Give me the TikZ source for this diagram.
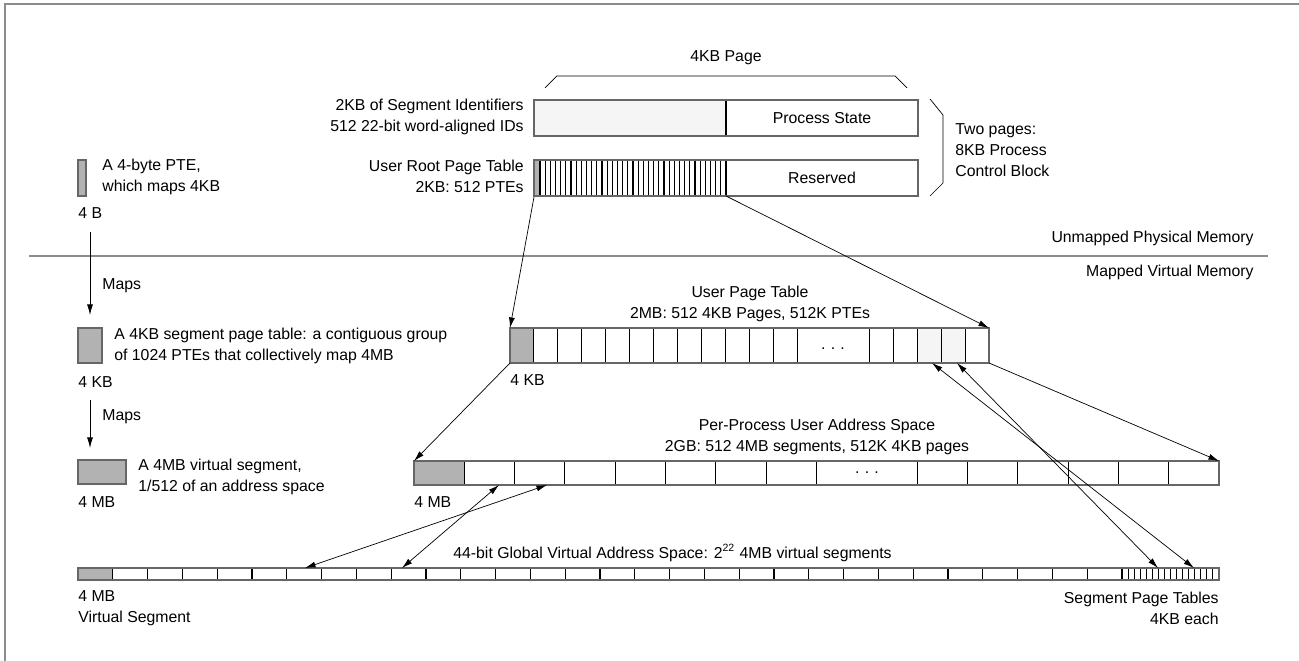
\documentclass[tikz,border=0pt]{standalone}
\usepackage{fontspec}
\setmainfont{Liberation Sans}
\usetikzlibrary{arrows.meta}

\begin{document}
\begin{tikzpicture}[x=0.02cm, y=-0.02cm,
  every node/.style={font=\fontsize{9}{11.9}\selectfont, inner sep=0pt},
  frame/.style={draw=black!45, line width=1pt},
  outline/.style={draw=black!60, line width=0.9pt},
  cell/.style={draw=black, line width=0.6pt},
  used/.style={fill=black!30},
  spare/.style={fill=black!4},
  map/.style={-{Latex[length=6pt,width=3.4pt]}, line width=0.4pt},
  both/.style={{Latex[length=6pt,width=3.4pt]}-{Latex[length=6pt,width=3.4pt]}, line width=0.4pt}]
\useasboundingbox (0,0) rectangle (1299,661);
\draw[frame] (5,661) -- (5,4) -- (1299,4);
\draw[frame] (29,256) -- (1268,256);
\node (unmapped) [anchor=east] at (1254,238) {Unmapped Physical Memory};
\node (mapped) [anchor=east] at (1254,272) {Mapped Virtual Memory};

% process control block
\node (pagelbl) at (726,58) {4KB Page};
\draw (545,88) -- (557,76) -- (895,76) -- (907,88);
\fill[spare] (534,100) rectangle (726,136);
\draw[cell] (726,100) -- (726,136);
\draw[outline] (534,100) rectangle (918,136);
\node (pstate) at (822,118) {Process State};
\node (segids) [align=right, anchor=east] at (524,116.5) {2KB of Segment Identifiers\\512 22-bit word-aligned IDs};
\fill[used] (534,160) rectangle (540,196);
\foreach \i in {0,...,36} \draw[cell] ({540+\i*5.167},160) -- ++(0,36);
\draw[outline] (534,160) rectangle (918,196);
\node (rsvd) at (822,178) {Reserved};
\node (rootlbl) [align=right, anchor=east] at (524,176.5) {User Root Page Table\\2KB: 512 PTEs};
\draw (930,99) -- (943,115) -- (943,183) -- (930,196);
\node (pcb) [align=left, anchor=west] at (955,150.5) {Two pages:\\8KB Process\\Control Block};

% legend
\draw[outline, used] (78,160) rectangle (86,196);
\node (ptelbl) [align=left, anchor=west] at (102,176.5) {A 4-byte PTE,\\which maps 4KB};
\node (ptesize) [anchor=west] at (78,213) {4 B};
\coordinate (pte-out) at (90,232);
\coordinate (spt-in) at (90,315);
\draw[map] (pte-out) -- (spt-in);
\node (maps1) [anchor=west] at (102,286) {Maps};
\draw[outline, used] (78,328) rectangle (102,363);
\node (sptlbl) [align=left, anchor=west] at (114,345.5) {A 4KB segment page table: a contiguous group\\of 1024 PTEs that collectively map 4MB};
\node (sptsize) [anchor=west] at (78,382) {4 KB};
\coordinate (spt-out) at (90,400);
\coordinate (seg-in) at (90,448);
\draw[map] (spt-out) -- (seg-in);
\node (maps2) [anchor=west] at (102,417) {Maps};
\draw[outline, used] (78,460) rectangle (126,484);
\node (seglbl) [align=left, anchor=west] at (138,477) {A 4MB virtual segment,\\1/512 of an address space};
\node (segsize) [anchor=west] at (78,502) {4 MB};

% user page table
\node (uptlbl) [align=center] at (750,304) {User Page Table\\2MB: 512 4KB Pages, 512K PTEs};
\fill[used] (510,328) rectangle (533.95,363);
\fill[spare] (917.15,328) rectangle (965.05,363);
\foreach \k in {1,...,12,15,16,17,18,19} \draw[cell] ({510+\k*23.95},328) -- ++(0,35);
\draw[outline] (510,328) rectangle (989,363);
\node (updots) at (833,349) {.\hspace{3pt}.\hspace{3pt}.};
\node (uptsize) [anchor=west] at (510,380) {4 KB};

% per-process user address space
\node (pplbl) [align=center] at (817,436.5) {Per-Process User Address Space\\2GB: 512 4MB segments, 512K 4KB pages};
\fill[used] (414,461) rectangle (464.3,485);
\foreach \k in {1,...,8,10,11,12,13,14,15} \draw[cell] ({414+\k*50.31},461) -- ++(0,24);
\draw[outline] (414,461) rectangle (1219,485);
\node (ppdots) at (867,473) {.\hspace{3pt}.\hspace{3pt}.};
\node (ppsize) [anchor=west] at (414,502) {4 MB};

% global virtual address space
\node (gvlbl) [anchor=west] at (453,553) {44-bit Global Virtual Address Space: 2\textsuperscript{22} 4MB virtual segments};
\fill[used] (78,568) rectangle (112.8,580);
\foreach \k in {1,...,30} \draw[cell] ({78+\k*34.8},568) -- ++(0,12);
\foreach \j in {1,...,15} \draw[cell] ({1122+\j*6.06},568) -- ++(0,12);
\draw[outline] (78,568) rectangle (1219,580);
\node (gvsize) [align=left, anchor=west] at (78,608) {4 MB\\Virtual Segment};
\node (sptbls) [align=right, anchor=east] at (1219,608) {Segment Page Tables\\4KB each};

% mappings
\coordinate (rpt-sw) at (534,197);
\coordinate (rpt-se) at (726,196);
\coordinate (upt-nw) at (510,328);
\coordinate (upt-ne) at (989,328);
\coordinate (upt-sw) at (510,363);
\coordinate (upt-se) at (989,363);
\coordinate (upt-a) at (932,363);
\coordinate (upt-b) at (957,363);
\coordinate (pp-nw) at (414,461);
\coordinate (pp-ne) at (1219,461);
\coordinate (pp-a) at (499,485);
\coordinate (pp-b) at (547,485);
\coordinate (gv-a) at (402,568);
\coordinate (gv-b) at (305,568);
\coordinate (gv-c) at (1158,568);
\coordinate (gv-d) at (1194,568);
\draw[map] (rpt-sw) -- (upt-nw);
\draw[map] (rpt-se) -- (upt-ne);
\draw[map] (upt-sw) -- (pp-nw);
\draw[map] (upt-se) -- (pp-ne);
\draw[both] (pp-a) -- (gv-a);
\draw[both] (pp-b) -- (gv-b);
\draw[both] (upt-a) -- (gv-d);
\draw[both] (upt-b) -- (gv-c);
\end{tikzpicture}
\end{document}
